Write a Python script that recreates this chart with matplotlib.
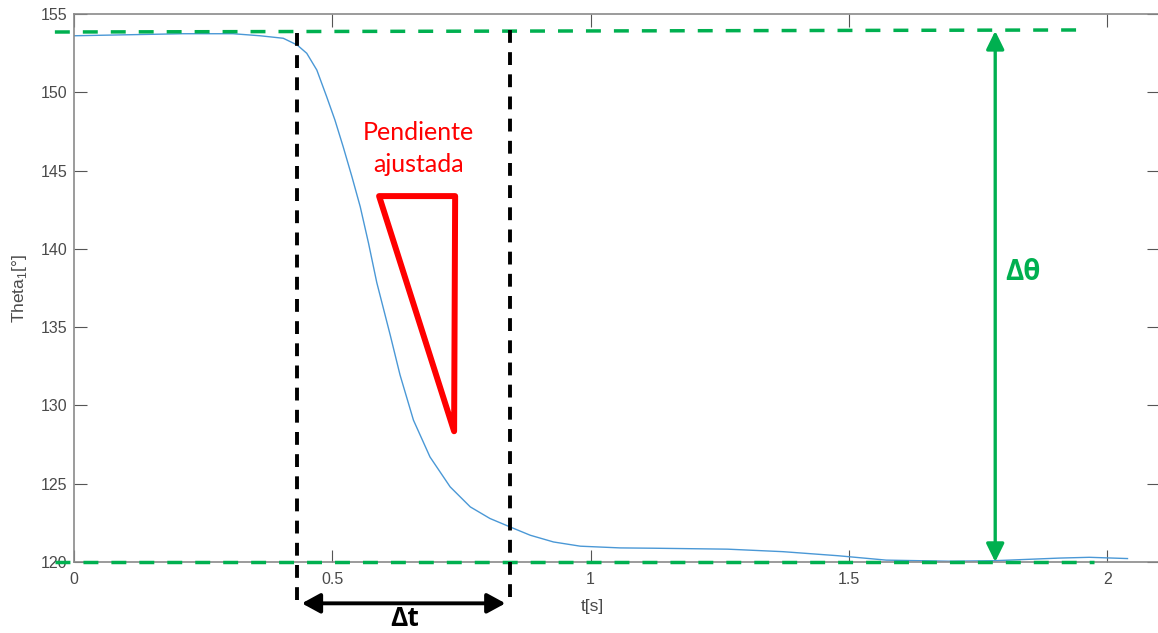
import matplotlib
matplotlib.use("Agg")
import matplotlib.pyplot as plt
from matplotlib.patches import Polygon

plt.rcParams["font.family"] = ["Liberation Sans", "DejaVu Sans"]
plt.rcParams["mathtext.fontset"] = "custom"
plt.rcParams["mathtext.rm"] = "Liberation Sans"

# measured response, theta_1 vs time
t = [0, 0.114, 0.211, 0.308, 0.360, 0.405, 0.432, 0.4505, 0.470, 0.489,
     0.505, 0.521, 0.538, 0.554, 0.570, 0.586, 0.612, 0.631, 0.657,
     0.689, 0.728, 0.767, 0.805, 0.844, 0.883, 0.928, 0.980, 1.057, 1.122,
     1.265, 1.372, 1.479, 1.572, 1.693, 1.779, 1.907, 1.965, 2.039]
theta = [153.61, 153.68, 153.74, 153.74, 153.61, 153.45, 153.02, 152.49, 151.42, 149.72,
         148.23, 146.52, 144.60, 142.69, 140.37, 137.85, 134.50, 131.95, 129.06,
         126.71, 124.80, 123.52, 122.78, 122.24, 121.71, 121.28, 121.01, 120.90, 120.88,
         120.82, 120.66, 120.40, 120.12, 120.05, 120.08, 120.25, 120.30, 120.22]

x_ticks = [0, 0.5, 1, 1.5, 2]
x_tick_labels = ["0", "0.5", "1", "1.5", "2"]
y_ticks = [120, 125, 130, 135, 140, 145, 150, 155]

# annotation values (data units)
theta_hi = [153.85, 153.98]      # upper level line, left/right ends
theta_lo = 120.03
level_t = [-0.037, 1.944]
level_lo_t = [-0.037, 1.975]
dt_start, dt_end = 0.432, 0.844  # window of the fitted slope
dt_arrow = [0.441, 0.835]
dtheta_t = 1.783
slope_t = [0.5905, 0.7377, 0.7357]
slope_theta = [143.37, 143.37, 128.35]

GREEN = "#00B050"
RED = "#FF0000"
BLUE = "#4a98d6"
GRAY = "#8a8a8a"
TXT = "#4a4a4a"

fig = plt.figure(figsize=(11.58, 6.33), dpi=100)
ax = fig.add_axes([74 / 1158, 71 / 633, 1085 / 1158, 548 / 633])

ax.plot(t, theta, color=BLUE, lw=1.0)
ax.set_xlim(0, 2.1)
ax.set_ylim(120, 155)
ax.set_xticks(x_ticks, x_tick_labels)
ax.set_yticks(y_ticks)
ax.tick_params(direction="in", length=9, width=0.8, color="#555555",
               labelcolor=TXT, labelsize=11.5, top=True, right=True)
ax.tick_params(axis="x", pad=7)
ax.tick_params(axis="y", pad=5)
for sp in ax.spines.values():
    sp.set_color(GRAY)
    sp.set_linewidth(1.2)

ax.set_xlabel("t[s]", fontsize=12.5, color=TXT)
ax.xaxis.set_label_coords(0.4774, -0.0675)
ax.set_ylabel("Theta$_1$[°]", fontsize=12.5, color=TXT)
ax.yaxis.set_label_coords(-0.0415, 0.5)

# green level lines
ax.plot(level_t, theta_hi, color=GREEN, lw=2.5, ls=(0, (4.3, 3.75)),
        clip_on=False, zorder=3)
ax.plot(level_lo_t, [theta_lo, theta_lo], color=GREEN, lw=2.5,
        ls=(0, (4.3, 3.75)), clip_on=False, zorder=3)

# black window lines
ax.plot([dt_start, dt_start], [153.79, 117.55], color="black", lw=2.8,
        ls=(0, (3.3, 2.4)), clip_on=False, zorder=3)
ax.plot([dt_end, dt_end], [153.98, 117.55], color="black", lw=2.8,
        ls=(0, (3.3, 2.4)), clip_on=False, zorder=3)

# arrows
ax.annotate("", xy=(dtheta_t, 153.92), xytext=(dtheta_t, 120.0),
            arrowprops=dict(arrowstyle="<|-|>,head_length=0.55,head_width=0.27",
                            color=GREEN, lw=2.4, shrinkA=0, shrinkB=0,
                            mutation_scale=20),
            annotation_clip=False, zorder=4)
ax.annotate("", xy=(dt_arrow[0], 117.36), xytext=(dt_arrow[1], 117.36),
            arrowprops=dict(arrowstyle="<|-|>,head_length=0.55,head_width=0.3",
                            color="black", lw=2.8, shrinkA=0, shrinkB=0,
                            mutation_scale=20),
            annotation_clip=False, zorder=4)

ax.text(1.8025, 138.5, "Δθ", color=GREEN, fontsize=20, fontweight="bold",
        family=["Open Sans", "DejaVu Sans"], ha="left", va="center")
ax.text(0.641, 116.4, "Δt", color="black", fontsize=19, fontweight="bold",
        family=["Open Sans", "DejaVu Sans"], ha="center", va="center",
        clip_on=False)

# fitted slope triangle
tri = Polygon(list(zip(slope_t, slope_theta)), closed=True, fill=False,
              edgecolor=RED, lw=4.3, joinstyle="round", clip_on=False, zorder=3)
ax.add_patch(tri)
ax.text(0.6665, 146.4, "Pendiente\najustada", color=RED, fontsize=18,
        family=["Lato", "DejaVu Sans"], ha="center", va="center",
        linespacing=1.45)

fig.savefig("out.png", dpi=100)
